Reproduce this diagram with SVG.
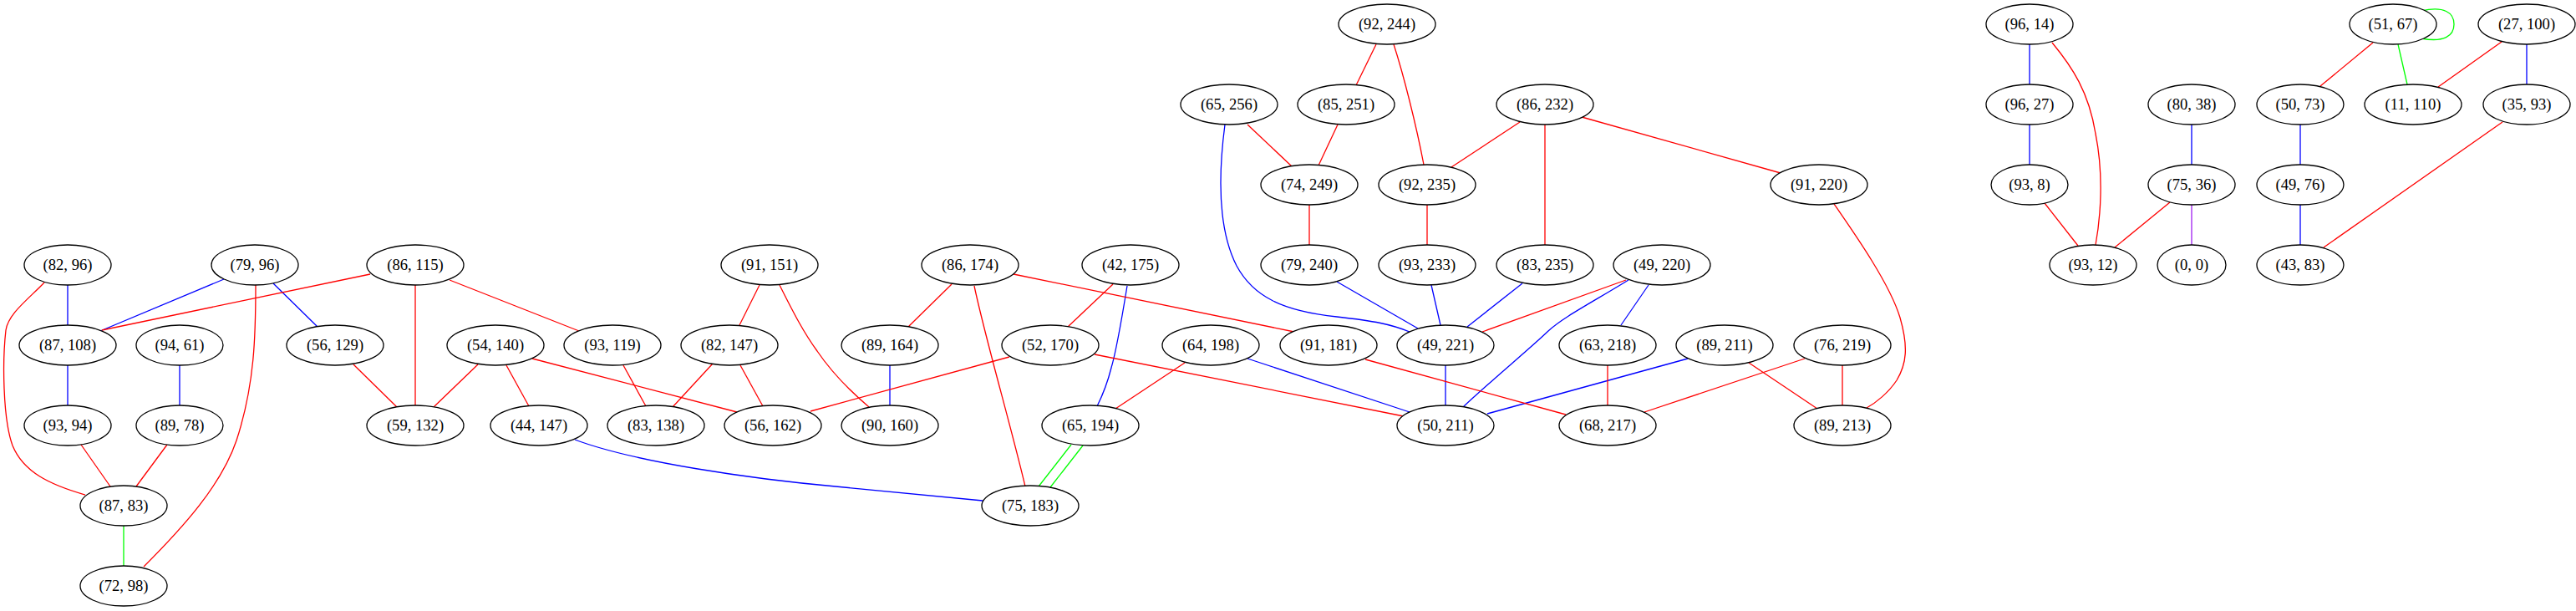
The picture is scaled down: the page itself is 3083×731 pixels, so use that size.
<svg xmlns="http://www.w3.org/2000/svg" width="3083" height="731" viewBox="0 0 3083 731">
<style>
.e path{fill:none;stroke-width:1.3}
.r{stroke:#ff0000}.b{stroke:#0000ff}.g{stroke:#00ff00}.p{stroke:#a020f0}
.n ellipse{fill:#ffffff;stroke:#000000;stroke-width:1.3}
.n text{font-family:"Liberation Serif","Times New Roman",serif;font-size:18.6px;text-anchor:middle;fill:#000000}
</style>
<rect width="3083" height="731" fill="#ffffff"/>
<g id="edges" class="e">
<path class="b" d="M81,341 L81,389"/>
<path class="b" d="M268,334 L120,396"/>
<path class="b" d="M327,339 L380,391"/>
<path class="b" d="M81,437 L81,485"/>
<path class="b" d="M215,437 L215,485"/>
<path class="b" d="M688,526 C760,553 900,573 1000,582 C1080,590 1130,595 1176,599"/>
<path class="b" d="M1349,342 C1342,385 1336,420 1330,440 C1325,460 1319,474 1313,486"/>
<path class="b" d="M1065,437 L1065,485"/>
<path class="b" d="M1493,429 L1687,493"/>
<path class="b" d="M1466,149 C1458,210 1458,275 1480,318 C1500,355 1535,372 1600,379 C1645,384 1665,388 1687,397"/>
<path class="b" d="M1600,337 L1697,393"/>
<path class="b" d="M1713,341 L1724,389"/>
<path class="b" d="M1822,339 L1756,391"/>
<path class="b" d="M1949,335 C1905,362 1870,380 1853,396 C1830,418 1785,455 1751,487"/>
<path class="b" d="M1973,341 L1940,389"/>
<path class="b" d="M1730,437 L1730,485"/>
<path class="b" d="M2020,429 L1780,495"/>
<path class="b" d="M2429,53 L2429,101"/>
<path class="b" d="M2429,149 L2429,197"/>
<path class="b" d="M2623,149 L2623,197"/>
<path class="b" d="M3024,53 L3024,101"/>
<path class="b" d="M2753,149 L2753,197"/>
<path class="b" d="M2753,245 L2753,293"/>
<path class="r" d="M53,338 C35,357 10,375 7,395 C3,430 3,500 15,533 C28,565 60,580 102,592"/>
<path class="r" d="M306,341 C306,400 305,460 283,527 C265,580 220,630 172,678"/>
<path class="r" d="M443,328 L122,395"/>
<path class="r" d="M497,341 L497,487"/>
<path class="r" d="M538,335 L693,396"/>
<path class="r" d="M423,436 L475,487"/>
<path class="r" d="M97,532 L132,582"/>
<path class="r" d="M200,532 L163,582"/>
<path class="r" d="M572,436 L519,487"/>
<path class="r" d="M606,437 L633,486"/>
<path class="r" d="M637,429 L882,493"/>
<path class="r" d="M746,437 L773,486"/>
<path class="r" d="M909,341 L885,389"/>
<path class="r" d="M933,341 C950,375 962,398 978,420 C995,445 1020,470 1040,487"/>
<path class="r" d="M853,435 L805,487"/>
<path class="r" d="M886,437 L913,486"/>
<path class="r" d="M1208,427 L970,492"/>
<path class="r" d="M1139,340 L1087,391"/>
<path class="r" d="M1166,342 C1178,400 1210,510 1227,582"/>
<path class="r" d="M1213,328 L1549,397"/>
<path class="r" d="M1332,340 L1278,391"/>
<path class="r" d="M1310,424 L1680,498"/>
<path class="r" d="M1418,434 L1335,489"/>
<path class="r" d="M1647,53 L1623,102"/>
<path class="r" d="M1668,53 C1680,90 1695,150 1704,197"/>
<path class="r" d="M1493,149 L1546,199"/>
<path class="r" d="M1601,149 L1578,198"/>
<path class="r" d="M1819,146 L1737,200"/>
<path class="r" d="M1849,149 L1849,293"/>
<path class="r" d="M1893,140 L2131,207"/>
<path class="r" d="M1567,245 L1567,293"/>
<path class="r" d="M1708,245 L1708,293"/>
<path class="r" d="M1946,335 L1774,397"/>
<path class="r" d="M1634,430 L1874,496"/>
<path class="r" d="M1924,437 L1924,485"/>
<path class="r" d="M2093,434 L2175,489"/>
<path class="r" d="M2160,429 L1968,493"/>
<path class="r" d="M2205,437 L2205,485"/>
<path class="r" d="M2195,244 C2220,280 2262,340 2274,380 C2284,415 2282,435 2270,455 C2260,470 2245,482 2234,488"/>
<path class="r" d="M2456,51 C2480,80 2500,110 2508,160 C2518,210 2514,260 2508,293"/>
<path class="r" d="M2447,243 L2487,294"/>
<path class="r" d="M2597,242 L2531,296"/>
<path class="r" d="M2840,51 L2777,103"/>
<path class="r" d="M2994,50 L2918,104"/>
<path class="r" d="M2995,146 L2781,296"/>
<path class="g" d="M148,629 L148,677"/>
<path class="g" d="M1282,532 L1243,582"/>
<path class="g" d="M1296,533 L1257,583"/>
<path class="g" d="M2870,53 L2881,101"/>
<path class="g" d="M2898,13 C2925,7 2937,15 2937,29 C2937,43 2925,51 2898,46"/>
<path class="p" d="M2623,245 L2623,293"/>
</g>
<g id="n_82_96" class="n"><ellipse cx="81" cy="317" rx="52" ry="24"/><text x="81" y="323">(82, 96)</text></g>
<g id="n_79_96" class="n"><ellipse cx="305" cy="317" rx="52" ry="24"/><text x="305" y="323">(79, 96)</text></g>
<g id="n_86_115" class="n"><ellipse cx="497" cy="317" rx="58" ry="24"/><text x="497" y="323">(86, 115)</text></g>
<g id="n_91_151" class="n"><ellipse cx="921" cy="317" rx="58" ry="24"/><text x="921" y="323">(91, 151)</text></g>
<g id="n_86_174" class="n"><ellipse cx="1161" cy="317" rx="58" ry="24"/><text x="1161" y="323">(86, 174)</text></g>
<g id="n_42_175" class="n"><ellipse cx="1353" cy="317" rx="58" ry="24"/><text x="1353" y="323">(42, 175)</text></g>
<g id="n_79_240" class="n"><ellipse cx="1567" cy="317" rx="58" ry="24"/><text x="1567" y="323">(79, 240)</text></g>
<g id="n_93_233" class="n"><ellipse cx="1708" cy="317" rx="58" ry="24"/><text x="1708" y="323">(93, 233)</text></g>
<g id="n_83_235" class="n"><ellipse cx="1849" cy="317" rx="58" ry="24"/><text x="1849" y="323">(83, 235)</text></g>
<g id="n_49_220" class="n"><ellipse cx="1989" cy="317" rx="58" ry="24"/><text x="1989" y="323">(49, 220)</text></g>
<g id="n_93_12" class="n"><ellipse cx="2505" cy="317" rx="52" ry="24"/><text x="2505" y="323">(93, 12)</text></g>
<g id="n_0_0" class="n"><ellipse cx="2623" cy="317" rx="41" ry="24"/><text x="2623" y="323">(0, 0)</text></g>
<g id="n_43_83" class="n"><ellipse cx="2753" cy="317" rx="52" ry="24"/><text x="2753" y="323">(43, 83)</text></g>
<g id="n_87_108" class="n"><ellipse cx="81" cy="413" rx="58" ry="24"/><text x="81" y="419">(87, 108)</text></g>
<g id="n_94_61" class="n"><ellipse cx="215" cy="413" rx="52" ry="24"/><text x="215" y="419">(94, 61)</text></g>
<g id="n_56_129" class="n"><ellipse cx="401" cy="413" rx="58" ry="24"/><text x="401" y="419">(56, 129)</text></g>
<g id="n_54_140" class="n"><ellipse cx="593" cy="413" rx="58" ry="24"/><text x="593" y="419">(54, 140)</text></g>
<g id="n_93_119" class="n"><ellipse cx="733" cy="413" rx="58" ry="24"/><text x="733" y="419">(93, 119)</text></g>
<g id="n_82_147" class="n"><ellipse cx="873" cy="413" rx="58" ry="24"/><text x="873" y="419">(82, 147)</text></g>
<g id="n_89_164" class="n"><ellipse cx="1065" cy="413" rx="58" ry="24"/><text x="1065" y="419">(89, 164)</text></g>
<g id="n_52_170" class="n"><ellipse cx="1257" cy="413" rx="58" ry="24"/><text x="1257" y="419">(52, 170)</text></g>
<g id="n_64_198" class="n"><ellipse cx="1449" cy="413" rx="58" ry="24"/><text x="1449" y="419">(64, 198)</text></g>
<g id="n_91_181" class="n"><ellipse cx="1590" cy="413" rx="58" ry="24"/><text x="1590" y="419">(91, 181)</text></g>
<g id="n_49_221" class="n"><ellipse cx="1730" cy="413" rx="58" ry="24"/><text x="1730" y="419">(49, 221)</text></g>
<g id="n_63_218" class="n"><ellipse cx="1924" cy="413" rx="58" ry="24"/><text x="1924" y="419">(63, 218)</text></g>
<g id="n_89_211" class="n"><ellipse cx="2064" cy="413" rx="58" ry="24"/><text x="2064" y="419">(89, 211)</text></g>
<g id="n_76_219" class="n"><ellipse cx="2205" cy="413" rx="58" ry="24"/><text x="2205" y="419">(76, 219)</text></g>
<g id="n_93_94" class="n"><ellipse cx="81" cy="509" rx="52" ry="24"/><text x="81" y="515">(93, 94)</text></g>
<g id="n_89_78" class="n"><ellipse cx="215" cy="509" rx="52" ry="24"/><text x="215" y="515">(89, 78)</text></g>
<g id="n_59_132" class="n"><ellipse cx="497" cy="509" rx="58" ry="24"/><text x="497" y="515">(59, 132)</text></g>
<g id="n_44_147" class="n"><ellipse cx="645" cy="509" rx="58" ry="24"/><text x="645" y="515">(44, 147)</text></g>
<g id="n_83_138" class="n"><ellipse cx="785" cy="509" rx="58" ry="24"/><text x="785" y="515">(83, 138)</text></g>
<g id="n_56_162" class="n"><ellipse cx="925" cy="509" rx="58" ry="24"/><text x="925" y="515">(56, 162)</text></g>
<g id="n_90_160" class="n"><ellipse cx="1065" cy="509" rx="58" ry="24"/><text x="1065" y="515">(90, 160)</text></g>
<g id="n_65_194" class="n"><ellipse cx="1305" cy="509" rx="58" ry="24"/><text x="1305" y="515">(65, 194)</text></g>
<g id="n_50_211" class="n"><ellipse cx="1730" cy="509" rx="58" ry="24"/><text x="1730" y="515">(50, 211)</text></g>
<g id="n_68_217" class="n"><ellipse cx="1924" cy="509" rx="58" ry="24"/><text x="1924" y="515">(68, 217)</text></g>
<g id="n_89_213" class="n"><ellipse cx="2205" cy="509" rx="58" ry="24"/><text x="2205" y="515">(89, 213)</text></g>
<g id="n_87_83" class="n"><ellipse cx="148" cy="605" rx="52" ry="24"/><text x="148" y="611">(87, 83)</text></g>
<g id="n_75_183" class="n"><ellipse cx="1233" cy="605" rx="58" ry="24"/><text x="1233" y="611">(75, 183)</text></g>
<g id="n_72_98" class="n"><ellipse cx="148" cy="701" rx="52" ry="24"/><text x="148" y="707">(72, 98)</text></g>
<g id="n_92_244" class="n"><ellipse cx="1660" cy="29" rx="58" ry="24"/><text x="1660" y="35">(92, 244)</text></g>
<g id="n_96_14" class="n"><ellipse cx="2429" cy="29" rx="52" ry="24"/><text x="2429" y="35">(96, 14)</text></g>
<g id="n_51_67" class="n"><ellipse cx="2864" cy="29" rx="52" ry="24"/><text x="2864" y="35">(51, 67)</text></g>
<g id="n_27_100" class="n"><ellipse cx="3024" cy="29" rx="58" ry="24"/><text x="3024" y="35">(27, 100)</text></g>
<g id="n_65_256" class="n"><ellipse cx="1471" cy="125" rx="58" ry="24"/><text x="1471" y="131">(65, 256)</text></g>
<g id="n_85_251" class="n"><ellipse cx="1611" cy="125" rx="58" ry="24"/><text x="1611" y="131">(85, 251)</text></g>
<g id="n_86_232" class="n"><ellipse cx="1849" cy="125" rx="58" ry="24"/><text x="1849" y="131">(86, 232)</text></g>
<g id="n_96_27" class="n"><ellipse cx="2429" cy="125" rx="52" ry="24"/><text x="2429" y="131">(96, 27)</text></g>
<g id="n_80_38" class="n"><ellipse cx="2623" cy="125" rx="52" ry="24"/><text x="2623" y="131">(80, 38)</text></g>
<g id="n_50_73" class="n"><ellipse cx="2753" cy="125" rx="52" ry="24"/><text x="2753" y="131">(50, 73)</text></g>
<g id="n_11_110" class="n"><ellipse cx="2888" cy="125" rx="58" ry="24"/><text x="2888" y="131">(11, 110)</text></g>
<g id="n_35_93" class="n"><ellipse cx="3024" cy="125" rx="52" ry="24"/><text x="3024" y="131">(35, 93)</text></g>
<g id="n_74_249" class="n"><ellipse cx="1567" cy="221" rx="58" ry="24"/><text x="1567" y="227">(74, 249)</text></g>
<g id="n_92_235" class="n"><ellipse cx="1708" cy="221" rx="58" ry="24"/><text x="1708" y="227">(92, 235)</text></g>
<g id="n_91_220" class="n"><ellipse cx="2177" cy="221" rx="58" ry="24"/><text x="2177" y="227">(91, 220)</text></g>
<g id="n_93_8" class="n"><ellipse cx="2429" cy="221" rx="46" ry="24"/><text x="2429" y="227">(93, 8)</text></g>
<g id="n_75_36" class="n"><ellipse cx="2623" cy="221" rx="52" ry="24"/><text x="2623" y="227">(75, 36)</text></g>
<g id="n_49_76" class="n"><ellipse cx="2753" cy="221" rx="52" ry="24"/><text x="2753" y="227">(49, 76)</text></g>
</svg>
